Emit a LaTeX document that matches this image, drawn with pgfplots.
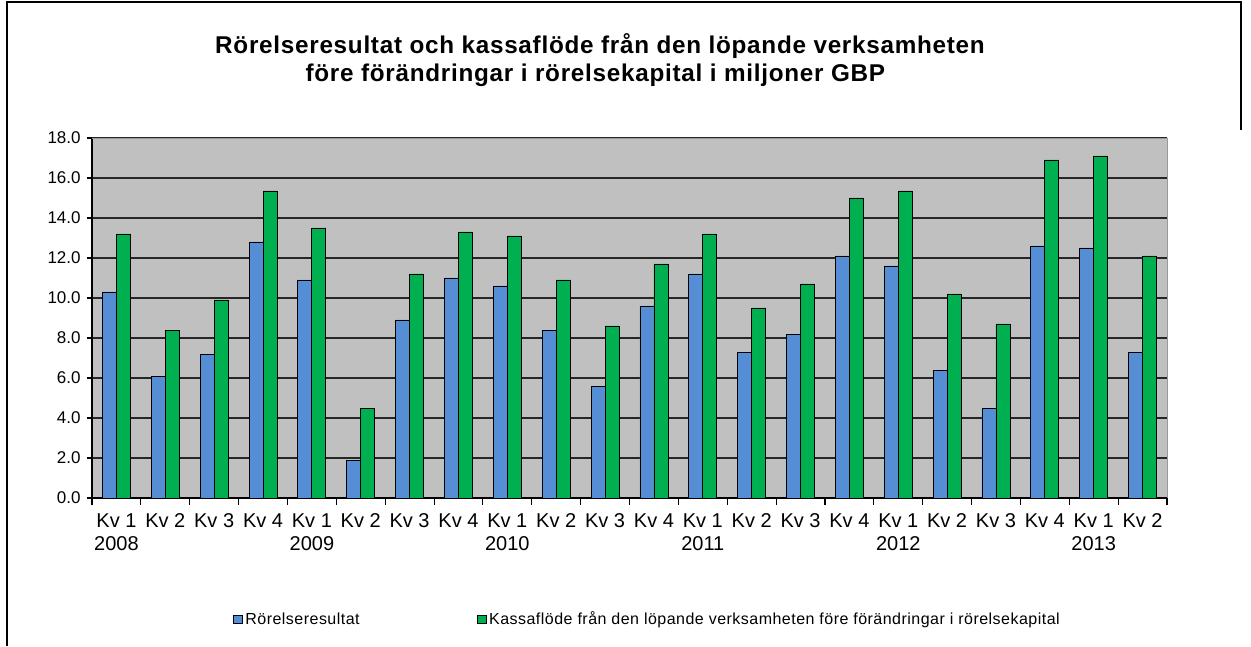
\documentclass[border=0pt]{standalone}
\usepackage{pgfplots}
\pgfplotsset{compat=1.18}
\usepackage{pgfplotstable}
\usepackage{fontspec}
\setmainfont{Liberation Sans}
\definecolor{barblue}{RGB}{85,142,213}
\definecolor{bargreen}{RGB}{0,176,80}
\definecolor{plotbg}{RGB}{192,192,192}
\pgfplotstableread{
x rr kf
0 10.3 13.2
1 6.1 8.4
2 7.2 9.9
3 12.8 15.35
4 10.9 13.5
5 1.9 4.5
6 8.9 11.2
7 11.0 13.3
8 10.6 13.1
9 8.4 10.9
10 5.6 8.6
11 9.6 11.7
12 11.2 13.2
13 7.3 9.5
14 8.2 10.7
15 12.1 15.0
16 11.6 15.35
17 6.4 10.2
18 4.5 8.7
19 12.6 16.9
20 12.5 17.1
21 7.3 12.1
}\datatable
\begin{document}
\begin{tikzpicture}
\useasboundingbox (0,0) rectangle (938.25pt,484.5pt);
% outer frame
\draw[line width=0.9pt] (5.25pt,0) -- (5.25pt,483pt) -- (930.75pt,483pt) -- (930.75pt,387pt);
% title
\node[anchor=base, font=\fontsize{18.2}{22}\selectfont\bfseries\addfontfeature{LetterSpace=3}] at (450pt,444pt) {Rörelseresultat och kassaflöde från den löpande verksamheten};
\node[anchor=base, font=\fontsize{18.2}{22}\selectfont\bfseries\addfontfeature{LetterSpace=3}] at (446.5pt,423pt) {före förändringar i rörelsekapital i miljoner GBP};
\begin{axis}[
  at={(69pt,111pt)}, anchor=south west,
  scale only axis, width=806.25pt, height=270pt,
  ybar=0pt, bar width=10.5pt,
  xmin=-0.5, xmax=21.5, ymin=0, ymax=18,
  axis lines*=left,
  axis line style={black, line width=0.8pt},
  axis background/.style={fill=plotbg},
  ytick={0,2,...,18},
  ymajorgrids, major grid style={black!85, line width=1pt},
  yticklabel style={font=\fontsize{12.75}{14}\selectfont, xshift=-1pt},
  /pgf/number format/assume math mode=true,
  /pgf/number format/.cd, fixed, fixed zerofill, precision=1, /pgfplots/.cd,
  xtick={0,...,21},
  xticklabels={{Kv 1\\2008},Kv 2,Kv 3,Kv 4,{Kv 1\\2009},Kv 2,Kv 3,Kv 4,{Kv 1\\2010},Kv 2,Kv 3,Kv 4,{Kv 1\\2011},Kv 2,Kv 3,Kv 4,{Kv 1\\2012},Kv 2,Kv 3,Kv 4,{Kv 1\\2013},Kv 2},
  xticklabel style={font=\fontsize{15}{17.25}\selectfont, align=center, anchor=north, yshift=-4pt},
  major x tick style={draw=none},
  minor xtick={-0.5,0.5,...,21.5},
  minor x tick style={black, line width=0.8pt},
  minor tick length=5pt,
  major tick length=4pt,
  tick align=outside,
  ytick style={black, line width=0.8pt},
  legend columns=2,
  legend style={at={(0.1274,-0.3375)}, anchor=west, draw=none, fill=none,
    font=\fontsize{12}{14}\selectfont\addfontfeature{LetterSpace=3},
    /tikz/every even column/.append style={column sep=86pt}},
  legend image code/.code={\draw[#1, draw=black, line width=0.6pt] (0pt,-3.2pt) rectangle (6.5pt,3.3pt);},
  after end axis/.code={\draw[black!40, line width=0.6pt] (rel axis cs:0,1) -- (rel axis cs:1,1) -- (rel axis cs:1,0);},
]
\addplot[fill=barblue, draw=black, line width=0.6pt] table[x=x, y=rr] {\datatable};
\addlegendentry{Rörelseresultat}
\addplot[fill=bargreen, draw=black, line width=0.6pt] table[x=x, y=kf] {\datatable};
\addlegendentry{Kassaflöde från den löpande verksamheten före förändringar i rörelsekapital}
\end{axis}
\end{tikzpicture}
\end{document}
